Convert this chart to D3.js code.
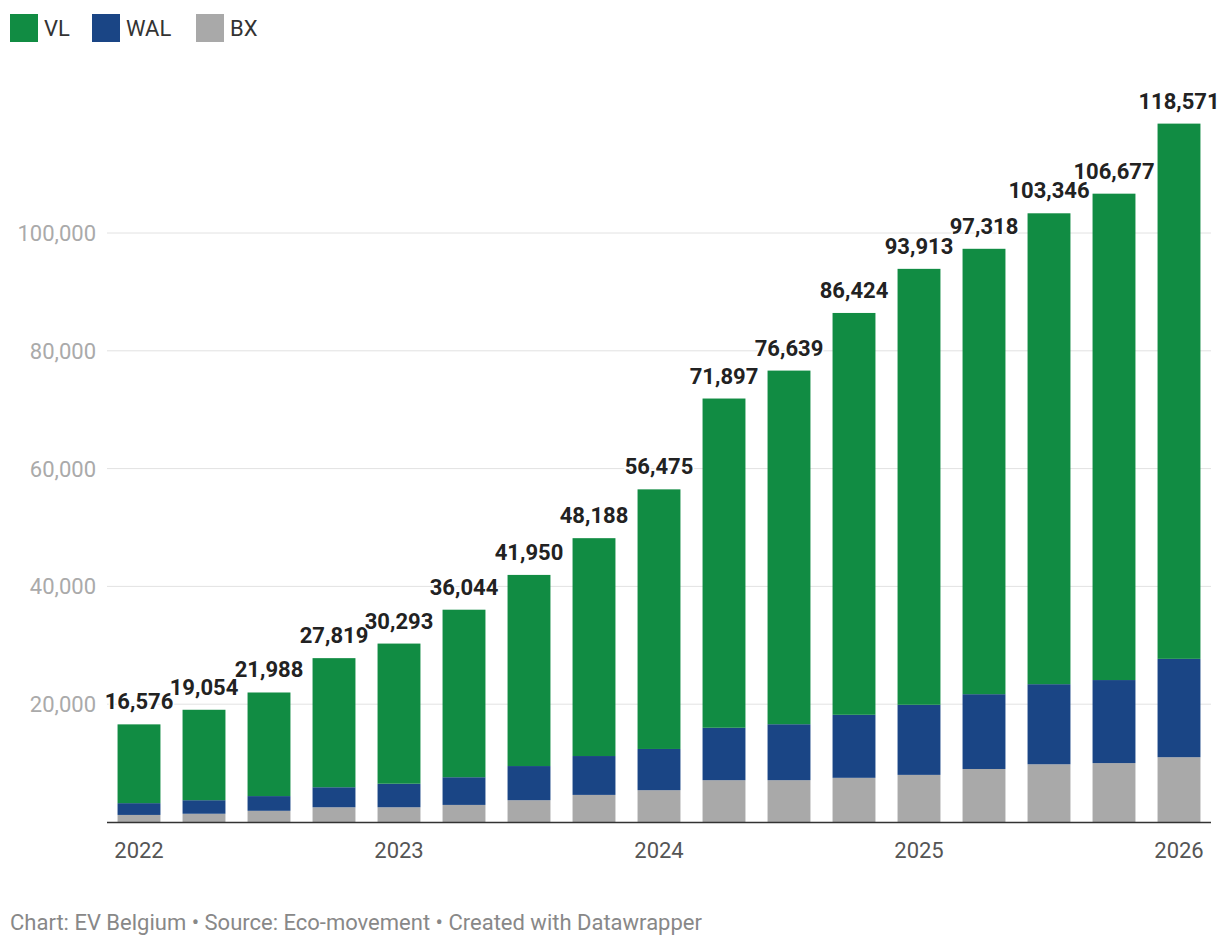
<!DOCTYPE html>
<html><head><meta charset="utf-8">
<script src="https://cdn.jsdelivr.net/npm/d3@7"></script>
<style>body{margin:0;background:#fff;font-family:Roboto,sans-serif}</style>
</head><body>
<svg id="chart" width="1220" height="946"></svg>
<script>
var quarters = ["2022Q1","2022Q2","2022Q3","2022Q4","2023Q1","2023Q2","2023Q3","2023Q4","2024Q1","2024Q2","2024Q3","2024Q4","2025Q1","2025Q2","2025Q3","2025Q4","2026Q1"];
var totals = [16576,19054,21988,27819,30293,36044,41950,48188,56475,71897,76639,86424,93913,97318,103346,106677,118571];
var bx = [1200,1400,1900,2500,2500,2900,3700,4600,5400,7100,7100,7500,8000,9000,9800,10000,11000];
var wal = [2000,2300,2500,3400,4000,4700,5800,6600,7000,8900,9500,10700,11900,12700,13600,14100,16700];
var yearTicks = ["2022Q1","2023Q1","2024Q1","2025Q1","2026Q1"];
var yTicks = [20000,40000,60000,80000,100000];
var colors = {VL:"#118c43", WAL:"#1a4585", BX:"#a9a9a9"};

var svg = d3.select("#chart");
var x = d3.scaleBand().domain(quarters).range([106.5,1211.5]).paddingInner(0.34).paddingOuter(0.17);
var y = d3.scaleLinear().domain([0,100000]).range([822,233]);
var fmt = d3.format(",");

// legend
var leg = svg.append("g");
[["VL",10],["WAL",92],["BX",196]].forEach(function(d){
    leg.append("rect").attr("x",d[1]).attr("y",14).attr("width",28).attr("height",28).attr("fill",colors[d[0]]);
    leg.append("text").attr("x",d[1]+34).attr("y",36).attr("font-size",22).attr("fill","#333").text(d[0]);
});

// grid
yTicks.forEach(function(t){
    svg.append("line").attr("x1",107).attr("x2",1211).attr("y1",y(t)).attr("y2",y(t)).attr("stroke","#e2e2e2");
    svg.append("text").attr("x",96).attr("y",y(t)+8).attr("text-anchor","end").attr("font-size",22).attr("fill","#aaa").text(fmt(t));
});

var rows = quarters.map(function(q,i){
    return {q:q, BX:bx[i], WAL:wal[i], VL:totals[i]-bx[i]-wal[i], total:totals[i]};
});
var stack = d3.stack().keys(["BX","WAL","VL"])(rows);
svg.append("g").selectAll("g").data(stack).enter().append("g")
    .attr("fill",function(s){return colors[s.key];})
    .selectAll("rect").data(function(s){return s;}).enter().append("rect")
    .attr("x",function(d){return x(d.data.q);})
    .attr("width",x.bandwidth())
    .attr("y",function(d){return y(d[1]);})
    .attr("height",function(d){return y(d[0])-y(d[1]);});

svg.append("g").selectAll("text").data(rows).enter().append("text")
    .attr("x",function(d){return x(d.q)+x.bandwidth()/2;})
    .attr("y",function(d){return y(d.total)-15;})
    .attr("text-anchor","middle").attr("font-size",22).attr("font-weight","bold").attr("fill","#222")
    .attr("stroke","#fff").attr("stroke-width",3).attr("paint-order","stroke")
    .text(function(d){return fmt(d.total);});

svg.append("line").attr("x1",107).attr("x2",1211).attr("y1",822.5).attr("y2",822.5).attr("stroke","#333").attr("stroke-width",1.5);

yearTicks.forEach(function(q){
    svg.append("text").attr("x",x(q)+x.bandwidth()/2).attr("y",858).attr("text-anchor","middle")
        .attr("font-size",22).attr("fill","#555").text(q.slice(0,4));
});

svg.append("text").attr("x",10).attr("y",930).attr("font-size",22).attr("fill","#888")
    .text("Chart: EV Belgium • Source: Eco-movement • Created with Datawrapper");
</script>
</body></html>
